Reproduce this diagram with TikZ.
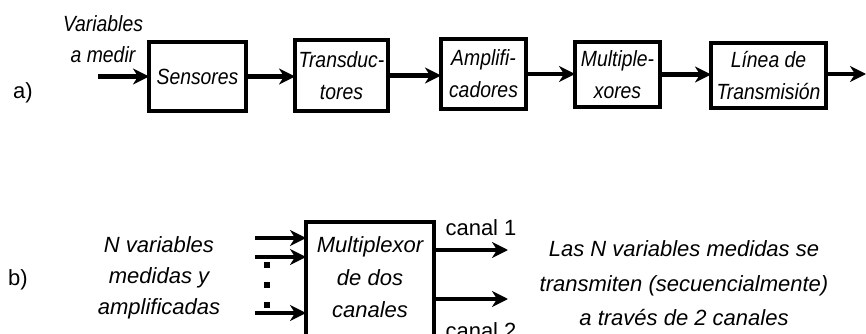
\documentclass[tikz,border=0pt]{standalone}
\usepackage{fontspec}
\setmainfont{Liberation Sans}
\newfontfamily\condit[FakeStretch=0.88]{Liberation Sans Italic}
\newfontfamily\regit{Liberation Sans Italic}
\usetikzlibrary{arrows.meta}
\begin{document}
\begin{tikzpicture}[x=1pt,y=-1pt,
  blk/.style={draw, line width=4pt, inner sep=0pt, outer sep=0pt, align=center,
    font=\condit\fontsize{22}{32}\selectfont},
  arr/.style={line width=4.5pt, -{Stealth[length=16pt,width=16pt,inset=5pt]}},
  lbl/.style={inner sep=0pt, font=\fontsize{22}{26}\selectfont},
  ctxt/.style={inner sep=0pt, align=center},
  dotline/.style={line width=6pt, dash pattern=on 6pt off 14pt}]
\useasboundingbox (0,0) rectangle (866,334);

% ---- a) ----
\node[lbl, anchor=base] (la) at (23,99) {a)};
\node[ctxt, font=\condit\fontsize{22}{31}\selectfont] (vin) at (103,39.5) {Variables\\a medir};

\node[blk, minimum width=97, minimum height=69] (sens) at (197.5,76.5) {Sensores};
\node[blk, minimum width=93, minimum height=71] (trans) at (341.5,75.5) {Transduc-\\tores};
\node[blk, minimum width=85, minimum height=70] (ampl) at (483.5,74) {Amplifi-\\cadores};
\node[blk, minimum width=85, minimum height=65] (mult) at (617.5,74.5) {Multiple-\\xores};
\node[blk, minimum width=115, minimum height=65] (linea) at (768.5,75.5) {L\'{\i}nea de\\Transmisi\'on};

\coordinate (ain) at (98,76.5);
\coordinate (aout) at (866,74);
\draw[arr] (ain) -- (sens.west);
\draw[arr] (sens.east) -- (sens.east -| trans.west);
\draw[arr] (trans.east) -- (trans.east -| ampl.west);
\draw[arr] (ampl.east) -- (ampl.east -| mult.west);
\draw[arr] (mult.east) -- (mult.east -| linea.west);
\draw[arr] (linea.east |- aout) -- (aout);

% ---- b) ----
\node[lbl, anchor=base] (lb) at (18,285) {b)};
\node[ctxt, font=\regit\fontsize{22}{31}\selectfont] (nvar) at (159,278.3) {N variables\\medidas y\\amplificadas};

\node[draw, line width=4pt, inner sep=0pt, outer sep=0pt, minimum width=128, minimum height=130, anchor=north] (mux) at (370,222) {};
\node[ctxt, font=\regit\fontsize{22}{32.5}\selectfont] (muxt) at (370,277.6) {Multiplexor\\de dos\\canales};

\coordinate (i1) at (255,238);
\coordinate (i2) at (255,257);
\coordinate (i3) at (255,313);
\draw[arr] (i1) -- (i1 -| mux.west);
\draw[arr] (i2) -- (i2 -| mux.west);
\draw[arr] (i3) -- (i3 -| mux.west);
\coordinate (d1) at (267,262);
\coordinate (d2) at (267,308);
\draw[dotline] (d1) -- (d2);

\coordinate (o1) at (508,250);
\coordinate (o2) at (508,299);
\draw[arr] (o1 -| mux.east) -- (o1);
\draw[arr] (o2 -| mux.east) -- (o2);

\node[lbl, anchor=base] (c1) at (481,235) {canal 1};
\node[lbl, anchor=base] (c2) at (481,338) {canal 2};

\node[ctxt, font=\regit\fontsize{22}{34.5}\selectfont] (res) at (684,283.5) {Las N variables medidas se\\transmiten (secuencialmente)\\a trav\'es de 2 canales};
\end{tikzpicture}
\end{document}
